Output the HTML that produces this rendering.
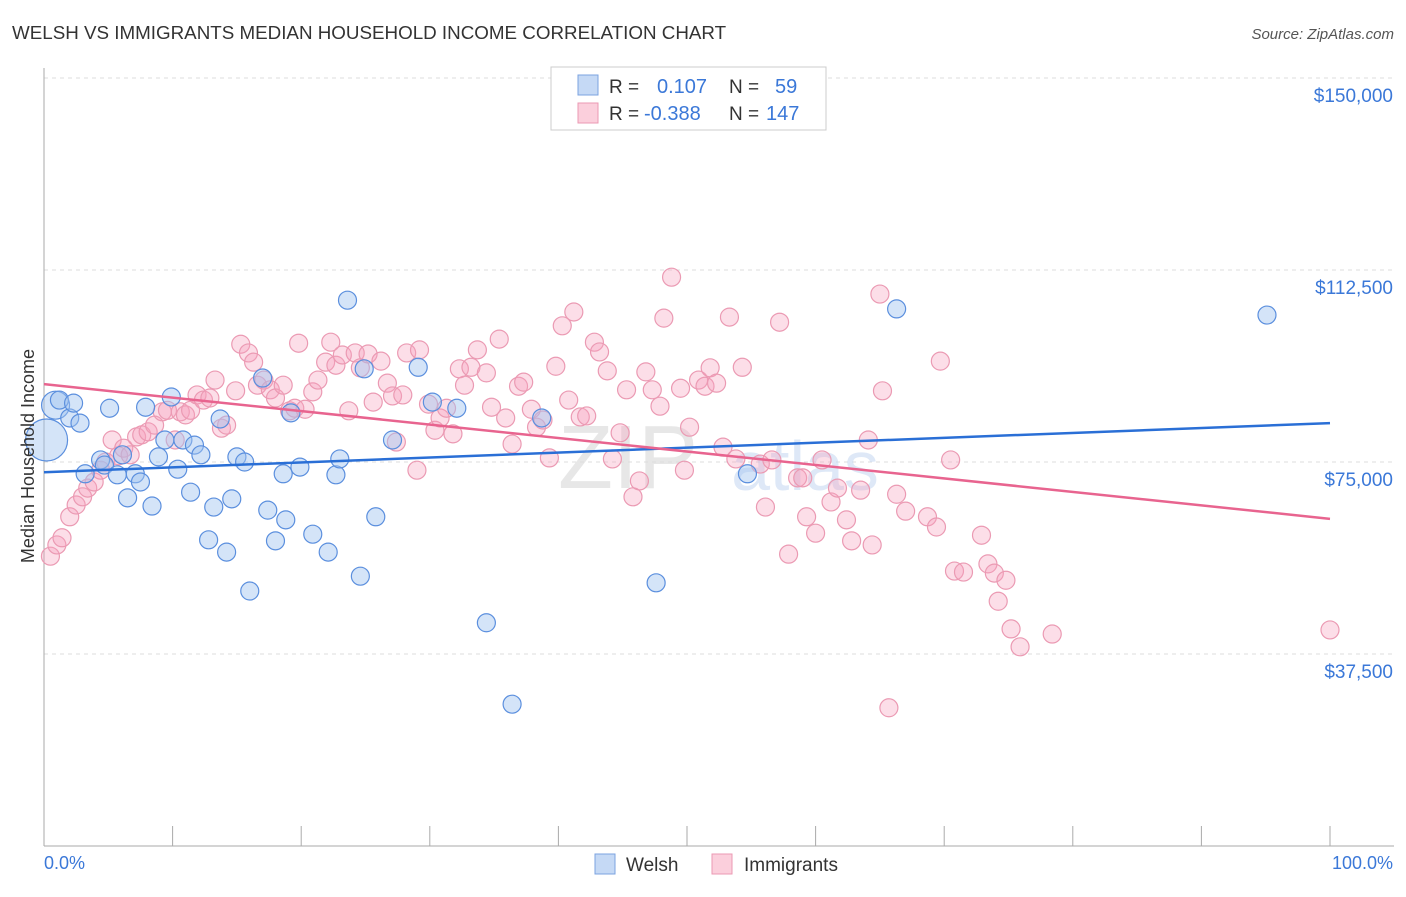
<!DOCTYPE html>
<html><head><meta charset="utf-8">
<style>
body{margin:0;background:#fff;font-family:"Liberation Sans",sans-serif;}
svg text{font-family:"Liberation Sans",sans-serif;}
</style></head><body>
<svg id="chart" width="1406" height="892" viewBox="0 0 1406 892">
<text x="12" y="39" font-size="18.8" fill="#333">WELSH VS IMMIGRANTS MEDIAN HOUSEHOLD INCOME CORRELATION CHART</text>
<text x="1394" y="39" font-size="15" fill="#555" font-style="italic" text-anchor="end">Source: ZipAtlas.com</text>
<g id="grid"></g>
<g>
<text x="628" y="488" font-size="90" fill="#ddd" font-family="Liberation Serif" text-anchor="middle" opacity="0.7">ZIP</text>
<text x="805" y="490" font-size="70" fill="#c9daf3" text-anchor="middle" opacity="0.6">atlas</text>
</g>
<g id="pink"></g>
<g id="blue"></g>
<g id="trends"></g>
<text transform="translate(34,456) rotate(-90)" font-size="18" fill="#333" text-anchor="middle">Median Household Income</text>
<text x="44" y="869" font-size="18" fill="#3b78d8">0.0%</text>
<text x="1393" y="869" font-size="18" fill="#3b78d8" text-anchor="end">100.0%</text>
<g>
<rect x="551" y="67" width="275" height="63" fill="#fff" stroke="#ccc"/>
<rect x="578" y="75" width="20" height="20" fill="#c5d9f5" stroke="#7ba3e0"/>
<rect x="578" y="103" width="20" height="20" fill="#fbcfdc" stroke="#eb9ab3"/>
<text x="609" y="93" font-size="19" fill="#333">R =</text>
<text x="657" y="93" font-size="20" fill="#3b78d8">0.107</text>
<text x="729" y="93" font-size="19" fill="#333">N =</text>
<text x="775" y="93" font-size="20" fill="#3b78d8">59</text>
<text x="609" y="120" font-size="19" fill="#333">R =</text>
<text x="644" y="120" font-size="20" fill="#3b78d8">-0.388</text>
<text x="729" y="120" font-size="19" fill="#333">N =</text>
<text x="766" y="120" font-size="20" fill="#3b78d8">147</text>
</g>
<g>
<rect x="595" y="854" width="20" height="20" fill="#c5d9f5" stroke="#7ba3e0"/>
<text x="626" y="871" font-size="19" fill="#333">Welsh</text>
<rect x="712" y="854" width="20" height="20" fill="#fbcfdc" stroke="#eb9ab3"/>
<text x="744" y="871" font-size="19" fill="#333">Immigrants</text>
</g>
</svg>
<script>
const yTicks=[37500,75000,112500,150000];
const yTickLabels=["$37,500","$75,000","$112,500","$150,000"];
const blueX=[0.9,0.2,1.2,2.0,2.3,2.8,5.1,7.9,9.9,3.2,4.4,4.7,5.7,6.1,7.1,7.5,6.5,8.4,8.9,9.4,10.4,10.8,11.4,11.7,12.2,12.8,13.2,13.7,14.2,14.6,15.0,15.6,16.0,17.0,17.4,18.0,18.6,18.8,19.2,19.9,20.9,22.1,22.7,23.0,23.6,24.6,24.9,25.8,27.1,29.1,30.2,32.1,34.4,36.4,38.7,47.6,54.7,66.3,95.1];
const blueY=[86.1,79.3,87.1,83.6,86.5,82.6,85.5,85.7,87.7,72.7,75.4,74.4,72.5,76.4,72.7,71.1,68.0,66.4,76.0,79.3,73.6,79.3,69.1,78.3,76.4,59.8,66.2,83.4,57.4,67.8,76.0,75.0,49.8,91.4,65.6,59.6,72.7,63.7,84.6,74.0,60.9,57.4,72.5,75.6,106.6,52.7,93.2,64.3,79.3,93.5,86.7,85.5,43.6,27.7,83.6,51.4,72.7,104.9,103.7];
const blueSize=[14,21];
const pinkX=[0.5,1.0,1.4,2.0,2.5,3.0,3.4,3.9,4.4,4.8,5.3,5.8,6.2,6.7,7.2,7.6,8.1,8.6,9.2,9.6,10.2,10.6,11.0,11.4,11.9,12.4,12.9,13.3,13.8,14.2,14.9,15.3,15.9,16.3,16.6,17.1,17.6,18.0,18.6,19.1,19.5,19.8,20.3,20.9,21.3,21.9,22.3,22.7,23.2,23.7,24.2,24.6,25.2,25.6,26.2,26.7,27.1,27.4,27.9,28.2,29.0,29.2,29.9,30.4,30.8,31.3,31.8,32.3,32.7,33.2,33.7,34.4,34.8,35.4,35.9,36.4,36.9,37.3,37.9,38.3,38.8,39.3,39.8,40.3,40.8,41.2,41.7,42.2,42.8,43.2,43.8,44.2,44.8,45.3,45.8,46.3,46.8,47.3,47.9,48.2,48.8,49.5,49.8,50.2,50.9,51.4,51.8,52.3,52.8,53.3,53.8,54.3,55.7,56.1,56.6,57.2,57.9,58.6,59.0,59.3,60.0,60.5,61.2,61.7,62.4,62.8,63.5,64.1,64.4,65.0,65.2,65.7,66.3,67.0,68.7,69.4,69.7,70.5,70.8,71.5,72.9,73.4,73.9,74.2,74.8,75.2,75.9,78.4,100];
const pinkY=[56.6,58.8,60.2,64.3,66.6,68.2,69.9,71.1,73.4,75.0,79.3,76.2,77.7,76.4,79.9,80.3,80.9,82.2,84.8,85.1,79.3,84.8,84.2,85.1,88.1,87.1,87.5,91.0,81.6,82.2,88.9,98.0,96.3,94.5,90.0,91.0,89.1,87.5,90.0,85.0,85.5,98.2,85.3,88.7,91.0,94.5,98.4,93.9,95.9,85.0,96.3,93.4,96.1,86.7,94.7,90.4,87.9,78.9,88.1,96.3,73.4,96.9,86.3,81.2,83.6,85.5,80.5,93.2,90.0,93.5,96.9,92.4,85.7,99.0,83.6,78.5,89.8,90.6,85.3,81.8,83.2,75.8,93.7,101.6,87.1,104.3,83.8,84.0,98.4,96.5,92.8,75.6,80.7,89.1,68.2,71.3,92.6,89.1,85.9,103.1,111.1,89.4,73.4,81.8,91.0,89.8,93.4,90.4,77.9,103.3,75.6,93.5,74.6,66.2,75.4,102.3,57.0,71.9,71.9,64.3,61.1,75.4,67.2,69.9,63.7,59.6,69.5,79.3,58.8,107.8,88.9,27.0,68.7,65.4,64.3,62.3,94.7,75.4,53.7,53.5,60.7,55.1,53.3,47.8,51.9,42.4,38.9,41.4,42.2];
const blueTrend=[73.0,82.6];
const pinkTrend=[90.2,63.9];
const NS="http://www.w3.org/2000/svg";
const X0=44,X1=1330,YB=846,PXPER=192/37500;
function sx(p){return X0+(X1-X0)*p/100;}
function sy(v){return YB-v*PXPER;}
function mk(tag,attrs,parent){const e=document.createElementNS(NS,tag);for(const k in attrs)e.setAttribute(k,attrs[k]);parent.appendChild(e);return e;}
const grid=document.getElementById('grid');
yTicks.forEach((t,i)=>{
  const l=mk('line',{x1:X0,x2:1394,y1:sy(t),y2:sy(t),stroke:'#ddd','stroke-dasharray':'4,4'},grid);
  
  
  const tx=mk('text',{x:1393,y:sy(t)+24,'font-size':19,fill:'#3b78d8','text-anchor':'end'},grid);
  tx.textContent=yTickLabels[i];
  
  
});
const ax=mk('line',{x1:X0,x2:X0,y1:68,y2:YB,stroke:'#aaa'},grid);


const bx=mk('line',{x1:X0,x2:1394,y1:YB,y2:YB,stroke:'#aaa'},grid);


for(let i=0;i<=10;i++){
  const t=mk('line',{x1:sx(i*10),x2:sx(i*10),y1:YB-20,y2:YB,stroke:'#aaa'},grid);
  
  
}
const pink=document.getElementById('pink');
pinkX.forEach((x,i)=>{
  const c=mk('circle',{cx:sx(x),cy:sy(pinkY[i]*1000),r:9,fill:'rgba(245,160,188,0.35)',stroke:'#eb9ab3','stroke-width':1.2},pink);
  
  
});
const blue=document.getElementById('blue');
blueX.forEach((x,i)=>{
  const r=i<blueSize.length?blueSize[i]:9;
  const c=mk('circle',{cx:sx(x),cy:sy(blueY[i]*1000),r:r,fill:'rgba(160,195,240,0.45)',stroke:'#5b8fde','stroke-width':1.2},blue);
  
  
});
const tr=document.getElementById('trends');
const bl=mk('line',{x1:sx(0),x2:sx(100),y1:sy(blueTrend[0]*1000),y2:sy(blueTrend[1]*1000),stroke:'#2a6fd6','stroke-width':2.5},tr);


const pl=mk('line',{x1:sx(0),x2:sx(100),y1:sy(pinkTrend[0]*1000),y2:sy(pinkTrend[1]*1000),stroke:'#e8648f','stroke-width':2.5},tr);


</script>
</body></html>
